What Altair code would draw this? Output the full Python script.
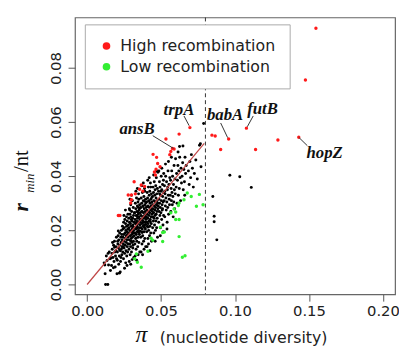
import altair as alt
import pandas as pd

# ---------------- data ----------------
x_ticks = [0.00, 0.05, 0.10, 0.15, 0.20]
y_ticks = [0.00, 0.02, 0.04, 0.06, 0.08]
x_domain = [-0.0082, 0.2082]
y_domain = [-0.0036, 0.0987]

legend_labels = ["High recombination", "Low recombination"]
legend_colors = ["#ff1a1a", "#33ee33"]

high_pts = [
    (0.1547, 0.0947), (0.1476, 0.0756), (0.1431, 0.0544), (0.1290, 0.0534),
    (0.1139, 0.0499), (0.1077, 0.0578), (0.0957, 0.0538), (0.0903, 0.0499),
    (0.0844, 0.0552), (0.0866, 0.0549), (0.0695, 0.0580), (0.0622, 0.0556),
    (0.0533, 0.0538), (0.0588, 0.0501), (0.0566, 0.0492), (0.0559, 0.0480),
    (0.0577, 0.0503), (0.0446, 0.0481), (0.0470, 0.0470), (0.0477, 0.0447),
    (0.0493, 0.0435), (0.0466, 0.0426), (0.0455, 0.0416), (0.0462, 0.0405),
    (0.0318, 0.0380), (0.0366, 0.0368), (0.0389, 0.0362), (0.0355, 0.0352),
    (0.0377, 0.0345), (0.0300, 0.0331), (0.0326, 0.0335), (0.0278, 0.0331),
    (0.0295, 0.0301), (0.0300, 0.0313), (0.0211, 0.0255), (0.0222, 0.0255),
]

low_pts = [
    (0.0759, 0.0333), (0.0784, 0.0295), (0.0739, 0.0289), (0.0704, 0.0325),
    (0.0677, 0.0338), (0.0655, 0.0313), (0.0622, 0.0301), (0.0617, 0.0292),
    (0.0588, 0.0279), (0.0566, 0.0265), (0.0599, 0.0268), (0.0622, 0.0240),
    (0.0599, 0.0240), (0.0495, 0.0212), (0.0522, 0.0194), (0.0511, 0.0192),
    (0.0622, 0.0177), (0.0433, 0.0171), (0.0444, 0.0164), (0.0511, 0.0159),
    (0.0411, 0.0123), (0.0333, 0.0113), (0.0322, 0.0095), (0.0340, 0.0082),
    (0.0366, 0.0064), (0.0644, 0.0101), (0.0662, 0.0106),
]

black_pts = [
    # 0.010 - 0.016
    (0.0125, 0.0000), (0.0140, 0.0000), (0.0115, 0.0080), (0.0122, 0.0040),
    (0.0135, 0.0089), (0.0130, 0.0105), (0.0145, 0.0072), (0.0150, 0.0120),
    (0.0155, 0.0095), (0.0142, 0.0115), (0.0158, 0.0052), (0.0120, 0.0072),
    # 0.016 - 0.020
    (0.0165, 0.0070), (0.0170, 0.0130), (0.0175, 0.0100), (0.0179, 0.0145),
    (0.0182, 0.0085), (0.0168, 0.0115), (0.0185, 0.0160), (0.0188, 0.0120),
    (0.0192, 0.0105), (0.0195, 0.0140), (0.0198, 0.0175), (0.0172, 0.0155),
    (0.0190, 0.0065), (0.0178, 0.0062), (0.0194, 0.0125), (0.0186, 0.0138),
    (0.0199, 0.0095), (0.0162, 0.0098),
    # 0.020 - 0.024
    (0.0202, 0.0040), (0.0224, 0.0046), (0.0218, 0.0042), (0.0205, 0.0120),
    (0.0208, 0.0150), (0.0210, 0.0180), (0.0212, 0.0135), (0.0215, 0.0165),
    (0.0218, 0.0105), (0.0220, 0.0190), (0.0222, 0.0145), (0.0225, 0.0125),
    (0.0228, 0.0175), (0.0230, 0.0155), (0.0232, 0.0200), (0.0235, 0.0110),
    (0.0238, 0.0140), (0.0204, 0.0090), (0.0214, 0.0075), (0.0226, 0.0085),
    (0.0234, 0.0185), (0.0236, 0.0165), (0.0239, 0.0215), (0.0207, 0.0160),
    (0.0219, 0.0128), (0.0229, 0.0100), (0.0211, 0.0198), (0.0233, 0.0132),
    # 0.024 - 0.028
    (0.0241, 0.0120), (0.0242, 0.0175), (0.0243, 0.0205), (0.0245, 0.0150),
    (0.0246, 0.0095), (0.0247, 0.0230), (0.0248, 0.0185), (0.0250, 0.0135),
    (0.0251, 0.0160), (0.0252, 0.0210), (0.0254, 0.0115), (0.0255, 0.0240),
    (0.0256, 0.0190), (0.0257, 0.0170), (0.0258, 0.0145), (0.0260, 0.0225),
    (0.0261, 0.0080), (0.0262, 0.0200), (0.0263, 0.0125), (0.0264, 0.0180),
    (0.0265, 0.0155), (0.0266, 0.0250), (0.0267, 0.0215), (0.0268, 0.0105),
    (0.0269, 0.0195), (0.0270, 0.0165), (0.0271, 0.0235), (0.0272, 0.0140),
    (0.0273, 0.0185), (0.0274, 0.0120), (0.0275, 0.0205), (0.0276, 0.0260),
    (0.0277, 0.0175), (0.0278, 0.0150), (0.0279, 0.0220), (0.0253, 0.0060),
    (0.0259, 0.0275), (0.0249, 0.0255), (0.0244, 0.0140), (0.0270, 0.0070),
    # 0.028 - 0.032
    (0.0281, 0.0190), (0.0282, 0.0245), (0.0283, 0.0130), (0.0284, 0.0210),
    (0.0285, 0.0165), (0.0286, 0.0280), (0.0287, 0.0230), (0.0288, 0.0150),
    (0.0289, 0.0200), (0.0290, 0.0260), (0.0291, 0.0110), (0.0292, 0.0180),
    (0.0293, 0.0225), (0.0294, 0.0140), (0.0295, 0.0295), (0.0296, 0.0195),
    (0.0297, 0.0250), (0.0298, 0.0170), (0.0299, 0.0215), (0.0300, 0.0120),
    (0.0301, 0.0270), (0.0302, 0.0185), (0.0303, 0.0235), (0.0304, 0.0155),
    (0.0305, 0.0205), (0.0306, 0.0310), (0.0307, 0.0175), (0.0308, 0.0245),
    (0.0309, 0.0135), (0.0310, 0.0220), (0.0311, 0.0190), (0.0312, 0.0285),
    (0.0313, 0.0160), (0.0314, 0.0255), (0.0315, 0.0200), (0.0316, 0.0100),
    (0.0317, 0.0230), (0.0318, 0.0180), (0.0319, 0.0265), (0.0285, 0.0085),
    (0.0295, 0.0075), (0.0305, 0.0092), (0.0290, 0.0315), (0.0300, 0.0330),
    (0.0310, 0.0145), (0.0299, 0.0240), (0.0288, 0.0275), (0.0313, 0.0212),
    (0.0296, 0.0160), (0.0308, 0.0196),
    # 0.032 - 0.036
    (0.0321, 0.0210), (0.0322, 0.0265), (0.0323, 0.0150), (0.0324, 0.0240),
    (0.0325, 0.0190), (0.0326, 0.0300), (0.0327, 0.0225), (0.0328, 0.0170),
    (0.0329, 0.0280), (0.0330, 0.0205), (0.0331, 0.0130), (0.0332, 0.0255),
    (0.0333, 0.0185), (0.0334, 0.0320), (0.0335, 0.0235), (0.0336, 0.0160),
    (0.0337, 0.0270), (0.0338, 0.0215), (0.0339, 0.0195), (0.0340, 0.0290),
    (0.0341, 0.0245), (0.0342, 0.0140), (0.0343, 0.0225), (0.0344, 0.0305),
    (0.0345, 0.0175), (0.0346, 0.0260), (0.0347, 0.0200), (0.0348, 0.0335),
    (0.0349, 0.0230), (0.0350, 0.0155), (0.0351, 0.0275), (0.0352, 0.0210),
    (0.0353, 0.0250), (0.0354, 0.0185), (0.0355, 0.0295), (0.0356, 0.0120),
    (0.0357, 0.0240), (0.0358, 0.0220), (0.0359, 0.0265), (0.0325, 0.0105),
    (0.0335, 0.0090), (0.0345, 0.0110), (0.0330, 0.0345), (0.0340, 0.0355),
    (0.0350, 0.0315), (0.0328, 0.0228), (0.0338, 0.0252), (0.0348, 0.0192),
    (0.0358, 0.0282), (0.0332, 0.0172), (0.0342, 0.0268), (0.0352, 0.0232),
    (0.0336, 0.0208), (0.0346, 0.0285), (0.0356, 0.0198),
    # 0.036 - 0.040
    (0.0361, 0.0230), (0.0362, 0.0285), (0.0363, 0.0175), (0.0364, 0.0255),
    (0.0365, 0.0210), (0.0366, 0.0320), (0.0367, 0.0240), (0.0368, 0.0195),
    (0.0369, 0.0300), (0.0370, 0.0225), (0.0371, 0.0150), (0.0372, 0.0270),
    (0.0373, 0.0205), (0.0374, 0.0340), (0.0375, 0.0250), (0.0376, 0.0180),
    (0.0377, 0.0290), (0.0378, 0.0235), (0.0379, 0.0215), (0.0380, 0.0310),
    (0.0381, 0.0265), (0.0382, 0.0160), (0.0383, 0.0245), (0.0384, 0.0325),
    (0.0385, 0.0195), (0.0386, 0.0280), (0.0387, 0.0220), (0.0388, 0.0355),
    (0.0389, 0.0255), (0.0390, 0.0170), (0.0391, 0.0295), (0.0392, 0.0230),
    (0.0393, 0.0270), (0.0394, 0.0205), (0.0395, 0.0315), (0.0396, 0.0140),
    (0.0397, 0.0260), (0.0398, 0.0240), (0.0399, 0.0285), (0.0365, 0.0120),
    (0.0375, 0.0110), (0.0385, 0.0130), (0.0370, 0.0365), (0.0380, 0.0375),
    (0.0390, 0.0345), (0.0368, 0.0268), (0.0378, 0.0288), (0.0388, 0.0212),
    (0.0398, 0.0302), (0.0372, 0.0192), (0.0382, 0.0252), (0.0392, 0.0248),
    (0.0376, 0.0228), (0.0386, 0.0308), (0.0396, 0.0222),
    # 0.040 - 0.044
    (0.0401, 0.0250), (0.0402, 0.0305), (0.0403, 0.0195), (0.0404, 0.0275),
    (0.0405, 0.0230), (0.0406, 0.0340), (0.0407, 0.0260), (0.0408, 0.0215),
    (0.0409, 0.0320), (0.0410, 0.0245), (0.0411, 0.0170), (0.0412, 0.0290),
    (0.0413, 0.0225), (0.0414, 0.0360), (0.0415, 0.0270), (0.0416, 0.0200),
    (0.0417, 0.0310), (0.0418, 0.0255), (0.0419, 0.0235), (0.0420, 0.0330),
    (0.0421, 0.0285), (0.0422, 0.0180), (0.0423, 0.0265), (0.0424, 0.0345),
    (0.0425, 0.0215), (0.0426, 0.0300), (0.0427, 0.0240), (0.0428, 0.0375),
    (0.0429, 0.0275), (0.0430, 0.0190), (0.0431, 0.0315), (0.0432, 0.0250),
    (0.0433, 0.0290), (0.0434, 0.0225), (0.0435, 0.0335), (0.0436, 0.0160),
    (0.0437, 0.0280), (0.0438, 0.0260), (0.0439, 0.0305), (0.0405, 0.0140),
    (0.0415, 0.0150), (0.0425, 0.0125), (0.0410, 0.0385), (0.0420, 0.0395),
    (0.0430, 0.0360), (0.0408, 0.0288), (0.0418, 0.0308), (0.0428, 0.0232),
    (0.0438, 0.0322), (0.0412, 0.0212),
    # 0.044 - 0.048
    (0.0441, 0.0270), (0.0442, 0.0325), (0.0443, 0.0210), (0.0444, 0.0295),
    (0.0445, 0.0250), (0.0446, 0.0360), (0.0447, 0.0280), (0.0448, 0.0235),
    (0.0449, 0.0340), (0.0450, 0.0265), (0.0451, 0.0190), (0.0452, 0.0310),
    (0.0453, 0.0245), (0.0454, 0.0380), (0.0455, 0.0290), (0.0456, 0.0220),
    (0.0457, 0.0330), (0.0458, 0.0275), (0.0459, 0.0255), (0.0460, 0.0350),
    (0.0461, 0.0305), (0.0462, 0.0200), (0.0463, 0.0285), (0.0464, 0.0365),
    (0.0465, 0.0235), (0.0466, 0.0320), (0.0467, 0.0260), (0.0468, 0.0395),
    (0.0469, 0.0295), (0.0470, 0.0210), (0.0471, 0.0335), (0.0472, 0.0270),
    (0.0473, 0.0310), (0.0474, 0.0245), (0.0475, 0.0355), (0.0476, 0.0175),
    (0.0477, 0.0300), (0.0478, 0.0280), (0.0479, 0.0415), (0.0450, 0.0405),
    (0.0460, 0.0160), (0.0470, 0.0420),
    # 0.048 - 0.052
    (0.0481, 0.0290), (0.0483, 0.0345), (0.0484, 0.0230), (0.0486, 0.0315),
    (0.0487, 0.0270), (0.0489, 0.0380), (0.0490, 0.0300), (0.0492, 0.0255),
    (0.0493, 0.0360), (0.0495, 0.0285), (0.0496, 0.0210), (0.0498, 0.0330),
    (0.0499, 0.0265), (0.0501, 0.0400), (0.0502, 0.0310), (0.0504, 0.0240),
    (0.0505, 0.0350), (0.0507, 0.0295), (0.0508, 0.0275), (0.0510, 0.0370),
    (0.0511, 0.0325), (0.0513, 0.0220), (0.0514, 0.0305), (0.0516, 0.0385),
    (0.0517, 0.0255), (0.0519, 0.0340), (0.0485, 0.0420), (0.0495, 0.0180),
    (0.0505, 0.0430), (0.0515, 0.0195), (0.0490, 0.0335), (0.0500, 0.0345),
    (0.0510, 0.0280), (0.0518, 0.0410),
    # 0.052 - 0.056
    (0.0521, 0.0310), (0.0523, 0.0365), (0.0525, 0.0250), (0.0527, 0.0335),
    (0.0529, 0.0290), (0.0531, 0.0400), (0.0533, 0.0320), (0.0535, 0.0275),
    (0.0537, 0.0380), (0.0539, 0.0305), (0.0541, 0.0230), (0.0543, 0.0350),
    (0.0545, 0.0285), (0.0547, 0.0420), (0.0549, 0.0330), (0.0551, 0.0260),
    (0.0553, 0.0370), (0.0555, 0.0315), (0.0557, 0.0295), (0.0559, 0.0395),
    (0.0530, 0.0445), (0.0540, 0.0205), (0.0550, 0.0455), (0.0525, 0.0345),
    (0.0545, 0.0360),
    # 0.056 - 0.060
    (0.0562, 0.0330), (0.0564, 0.0385), (0.0566, 0.0270), (0.0568, 0.0355),
    (0.0570, 0.0310), (0.0572, 0.0420), (0.0574, 0.0340), (0.0576, 0.0295),
    (0.0578, 0.0400), (0.0580, 0.0325), (0.0582, 0.0250), (0.0584, 0.0370),
    (0.0586, 0.0305), (0.0588, 0.0440), (0.0590, 0.0350), (0.0592, 0.0280),
    (0.0594, 0.0390), (0.0596, 0.0335), (0.0598, 0.0465), (0.0570, 0.0470),
    # 0.060 - 0.064
    (0.0602, 0.0360), (0.0605, 0.0410), (0.0608, 0.0300), (0.0611, 0.0385),
    (0.0614, 0.0440), (0.0617, 0.0330), (0.0620, 0.0420), (0.0623, 0.0355),
    (0.0626, 0.0470), (0.0629, 0.0395), (0.0632, 0.0310), (0.0635, 0.0430),
    (0.0638, 0.0375), (0.0625, 0.0510), (0.0615, 0.0490),
    # 0.064 - 0.068
    (0.0642, 0.0400), (0.0646, 0.0450), (0.0650, 0.0350), (0.0654, 0.0425),
    (0.0658, 0.0380), (0.0662, 0.0470), (0.0666, 0.0410), (0.0648, 0.0512),
    (0.0660, 0.0330), (0.0670, 0.0440),
    # 0.068 - 0.080
    (0.0685, 0.0420), (0.0690, 0.0370), (0.0695, 0.0455), (0.0700, 0.0395),
    (0.0705, 0.0480), (0.0712, 0.0430), (0.0718, 0.0360), (0.0725, 0.0410),
    (0.0735, 0.0460), (0.0745, 0.0390), (0.0766, 0.0520), (0.0770, 0.0435),
    (0.0788, 0.0595), (0.0760, 0.0515),
    # beyond the cut-off
    (0.0850, 0.0325), (0.0859, 0.0252), (0.0859, 0.0232), (0.0877, 0.0165),
    (0.0965, 0.0404), (0.1032, 0.0398), (0.1110, 0.0359),
]

fit_x = [0.0, 0.0792]
fit_y = [0.0, 0.0522]
cutoff_x = [0.08]

gene_names = ["trpA", "ansB", "babA", "futB", "hopZ"]
gene_label_x = [0.0621, 0.0338, 0.0933, 0.1186, 0.1606]
gene_label_y = [0.0645, 0.0575, 0.0626, 0.0648, 0.0484]
leader_x = [0.0655, 0.0444, 0.0903, 0.1123, 0.1431]
leader_y = [0.0623, 0.0550, 0.0597, 0.0623, 0.0544]
leader_x2 = [0.0690, 0.0584, 0.0950, 0.1083, 0.1489]
leader_y2 = [0.0587, 0.0503, 0.0543, 0.0583, 0.0513]

y_title_parts = ["r", "min", "/nt"]
x_title_parts = ["\u03c0", "(nucleotide diversity)"]

# ---------------- tables ----------------
black_df = pd.DataFrame(black_pts, columns=["pi", "r"])
col_df = pd.concat([
    pd.DataFrame(high_pts, columns=["pi", "r"]).assign(group=legend_labels[0]),
    pd.DataFrame(low_pts, columns=["pi", "r"]).assign(group=legend_labels[1]),
])
fit_df = pd.DataFrame({"pi": fit_x, "r": fit_y})
cut_df = pd.DataFrame({"pi": cutoff_x})
gene_df = pd.DataFrame({"name": gene_names, "pi": gene_label_x, "r": gene_label_y,
                        "x1": leader_x, "y1": leader_y, "x2": leader_x2, "y2": leader_y2})

SANS = "DejaVu Sans"
SERIF = "Liberation Serif"

xs = alt.Scale(domain=x_domain, nice=False, zero=False)
ys = alt.Scale(domain=y_domain, nice=False, zero=False)
x_axis = alt.Axis(values=x_ticks, format=".2f", title=None, grid=False, domain=False,
                  tickSize=7, tickColor="#555", tickWidth=1, labelFont=SANS, labelFontSize=15,
                  labelColor="#222", labelPadding=3, labelFlush=False, labelOverlap=False)
y_axis = alt.Axis(values=y_ticks, format=".2f", title=None, grid=False, domain=False,
                  tickSize=7, tickColor="#555", tickWidth=1, labelFont=SANS, labelFontSize=15,
                  labelColor="#222", labelPadding=5, labelAngle=270, labelAlign="center",
                  labelBaseline="bottom", labelFlush=False, labelOverlap=False)

X = alt.X("pi:Q", scale=xs, axis=x_axis)
Y = alt.Y("r:Q", scale=ys, axis=y_axis)

black = alt.Chart(black_df).mark_circle(size=9, color="black", opacity=1).encode(x=X, y=Y)

fit = alt.Chart(fit_df).mark_line(color="#c04545", strokeWidth=1.2).encode(x=X, y=Y)

cut = alt.Chart(cut_df).mark_rule(color="#333", strokeWidth=1, strokeDash=[4, 3]).encode(x=X)

colored = alt.Chart(col_df).mark_circle(size=12, opacity=1).encode(
    x=X, y=Y,
    color=alt.Color("group:N", scale=alt.Scale(domain=legend_labels, range=legend_colors),
                    legend=alt.Legend(title=None, orient="none", legendX=10, legendY=7,
                                      padding=14, strokeColor="#aaa", fillColor="white",
                                      labelFont=SANS, labelFontSize=16, labelColor="#222",
                                      labelOffset=6, symbolType="circle", symbolSize=60,
                                      symbolStrokeWidth=0, rowPadding=5, labelLimit=400)),
)

leaders = alt.Chart(gene_df).mark_rule(color="#333", strokeWidth=1).encode(
    x=alt.X("x1:Q", scale=xs, axis=x_axis), y=alt.Y("y1:Q", scale=ys, axis=y_axis),
    x2="x2:Q", y2="y2:Q")

labels = alt.Chart(gene_df).mark_text(font=SERIF, fontStyle="italic", fontWeight="bold",
                                      fontSize=17, color="#111", baseline="middle",
                                      align="center").encode(x=X, y=Y, text="name:N")

def title_piece(txt, x, y, **kw):
    return alt.Chart(pd.DataFrame({"t": [txt]})).mark_text(**kw).encode(
        text="t:N", x=alt.value(x), y=alt.value(y))

# y title r_min/nt, read bottom-to-top
yt_r = title_piece(y_title_parts[0], -48, 197, font=SERIF, fontStyle="italic", fontWeight="bold",
                   fontSize=22, angle=270, align="left", baseline="alphabetic", color="#111")
yt_min = title_piece(y_title_parts[1], -42, 178, font=SERIF, fontStyle="italic",
                     fontSize=13, angle=270, align="left", baseline="alphabetic", color="#111")
yt_nt = title_piece(y_title_parts[2], -48, 157, font=SERIF, fontSize=21, angle=270,
                    align="left", baseline="alphabetic", color="#111")
# x title
xt_pi = title_piece(x_title_parts[0], 67.5, 330, font=SERIF, fontStyle="italic", fontSize=24,
                    align="center", baseline="alphabetic", color="#111")
xt_txt = title_piece(x_title_parts[1], 86, 331, font=SANS, fontSize=16,
                     align="left", baseline="alphabetic", color="#222")

chart = alt.layer(black, fit, cut, colored, leaders, labels, yt_r, yt_min, yt_nt, xt_pi, xt_txt).properties(
    width=325, height=281,
    autosize=alt.AutoSizeParams(type="none"),
    padding={"left": 68, "top": 7, "right": 4, "bottom": 55},
).configure_view(stroke="#666", strokeWidth=1.2)

chart.save("out.html", embed_options={"renderer": "svg", "actions": False})
